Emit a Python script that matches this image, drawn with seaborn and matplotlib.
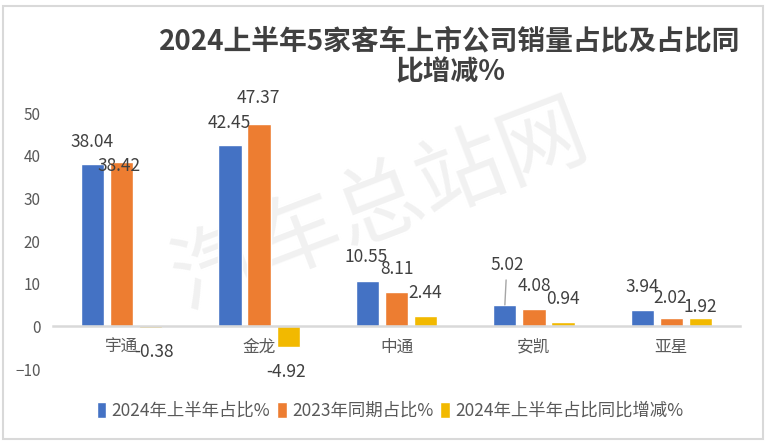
import matplotlib
matplotlib.use("Agg")
import matplotlib.pyplot as plt
from matplotlib.patches import Rectangle
import seaborn as sns
import pandas as pd

# ---------------- data ----------------
categories = ["宇通", "金龙", "中通", "安凯", "亚星"]
series_names = ["2024年上半年占比%", "2023年同期占比%", "2024年上半年占比同比增减%"]
share_2024h1 = [38.04, 42.45, 10.55, 5.02, 3.94]
share_2023h1 = [38.42, 47.37, 8.11, 4.08, 2.02]
share_change = [-0.38, -4.92, 2.44, 0.94, 1.92]
y_ticks = [-10, 0, 10, 20, 30, 40, 50]
title = "2024上半年5家客车上市公司销量占比及占比同\n比增减%"
watermark = "汽车总站网"

# ---------------- style ----------------
colors = ["#4472C4", "#ED7D31", "#F2B900"]
label_color = "#404040"
axis_text_color = "#595959"

sns.set_style("white")
plt.rcParams["font.family"] = ["Noto Sans CJK SC", "DejaVu Sans"]

rows = []
for name, vals in zip(series_names, [share_2024h1, share_2023h1, share_change]):
    for c, v in zip(categories, vals):
        rows.append({"公司": c, "指标": name, "值": v})
df = pd.DataFrame(rows)

W, H = 772, 445
fig = plt.figure(figsize=(W / 100, H / 100), dpi=100)
ax = fig.add_axes([53 / W, 1 - 369 / H, (740 - 53) / W, (369 - 113) / H])
ax.patch.set_alpha(0)

sns.barplot(data=df, x="公司", y="值", hue="指标", hue_order=series_names,
            order=categories, palette=colors, saturation=1, width=0.634,
            gap=0.2, errorbar=None, ax=ax, zorder=2)

ax.set_ylim(-10, 50)
ax.set_xlim(-0.5, len(categories) - 0.5)
ax.set_yticks(y_ticks)
ax.set_xlabel("")
ax.set_ylabel("")
for s in ["left", "top", "right"]:
    ax.spines[s].set_visible(False)
ax.spines["bottom"].set_position(("data", 0))
ax.spines["bottom"].set_color("#d9d9d9")
ax.spines["bottom"].set_linewidth(1.8)
ax.tick_params(axis="y", length=0, pad=9, labelsize=11, labelcolor=axis_text_color)
ax.tick_params(axis="x", length=0, pad=9, labelsize=12, labelcolor=axis_text_color)

# watermark
ax.text(381 / W, 1 - 207 / H, watermark, transform=fig.transFigure, rotation=21,
        fontsize=63, color="#f1f1f1", ha="center", va="center", zorder=0.5)

# data labels (pixel offsets of label centre from bar end)
default_up, default_down = 23, -25
label_offsets = {
    (0, 0): (-1, 22), (0, 1): (-3, -4), (0, 2): (3, -24),
    (1, 0): (-1, 22), (1, 1): (-1, 26), (1, 2): (-2, -25),
    (2, 0): (-1, 24),
    (3, 0): (2, 40),
    (4, 1): (-1, 20), (4, 2): (0, 11),
}
leader_lines = {(3, 0)}
for j, cont in enumerate(ax.containers):
    for i, patch in enumerate(cont):
        val = [share_2024h1, share_2023h1, share_change][j][i]
        xc = patch.get_x() + patch.get_width() / 2
        dx, dy = label_offsets.get((i, j), (0, default_up if val >= 0 else default_down))
        kw = {}
        if (i, j) in leader_lines:
            kw["arrowprops"] = dict(arrowstyle="-", color="#a6a6a6", lw=1,
                                    shrinkA=2, shrinkB=0)
        ax.annotate(f"{val:.2f}", xy=(xc, val), xytext=(dx, dy),
                    textcoords="offset pixels", ha="center", va="center",
                    fontsize=12.5, color=label_color, zorder=5, **kw)

# legend
handles, labels = ax.get_legend_handles_labels()
ax.get_legend().remove()
fig.legend(handles, labels, loc="center", bbox_to_anchor=(390 / W, 1 - 411 / H),
           ncol=3, frameon=False, fontsize=12.5, handlelength=0.55,
           handleheight=1.0, handletextpad=0.3, columnspacing=0.4,
           labelcolor=axis_text_color)

# title
fig.text(450 / W, 1 - 57 / H, title, ha="center", va="center", fontsize=20,
         fontweight="bold", color=label_color, linespacing=1.15,
         multialignment="center")

# chart border
fig.patches.append(Rectangle((3.5 / W, 1 - 439 / H), (763 - 3.5) / W, (439 - 5.5) / H,
                             transform=fig.transFigure, fill=False,
                             edgecolor="#d9d9d9", linewidth=1.5))

fig.savefig("out.png", dpi=100)
